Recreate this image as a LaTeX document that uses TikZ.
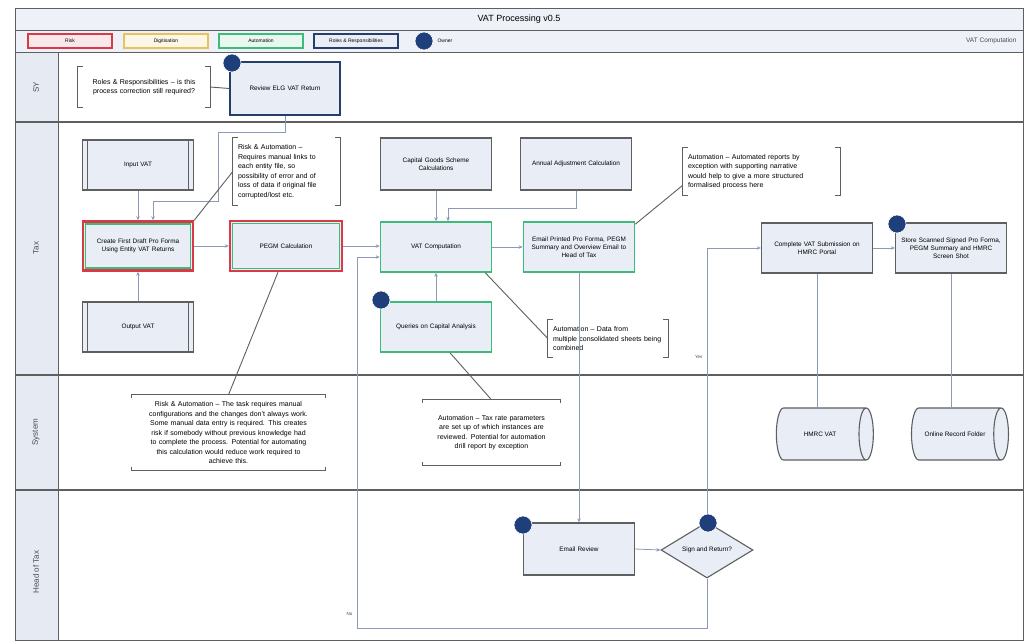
\documentclass[tikz,border=0pt]{standalone}
\usepackage{fontspec}
\setmainfont{Liberation Sans}
\usetikzlibrary{shapes.geometric,arrows.meta,calc}
\definecolor{boxfill}{HTML}{E9EDF6}
\definecolor{lanefill}{HTML}{E6EAF3}
\definecolor{barfill}{HTML}{EEF1F7}
\definecolor{riskred}{HTML}{D93A45}
\definecolor{digyel}{HTML}{E8C35C}
\definecolor{autgreen}{HTML}{3DBB7A}
\definecolor{rolenavy}{HTML}{263E6B}
\definecolor{ownblue}{HTML}{1E3F7A}
\definecolor{linegray}{HTML}{5F5F5F}
\definecolor{connblue}{HTML}{8C9AB8}
\newcommand\boxfont{\fontsize{6.4}{7.8}\selectfont\hyphenpenalty=10000\exhyphenpenalty=10000 }
\newcommand\annfont{\fontsize{7}{9.5}\selectfont\hyphenpenalty=10000\exhyphenpenalty=10000 }
\newcommand\myvbr[1]{%
  \draw[brk] ([xshift=5pt]#1.north west) -- (#1.north west) -- (#1.south west) -- ([xshift=5pt]#1.south west);
  \draw[brk] ([xshift=-5pt]#1.north east) -- (#1.north east) -- (#1.south east) -- ([xshift=-5pt]#1.south east);}
\newcommand\myhbr[1]{%
  \draw[brk] ([yshift=-3pt]#1.north west) -- (#1.north west) -- (#1.north east) -- ([yshift=-3pt]#1.north east);
  \draw[brk] ([yshift=3pt]#1.south west) -- (#1.south west) -- (#1.south east) -- ([yshift=3pt]#1.south east);}
\newcommand\mybars[1]{%
  \draw[linegray, line width=1pt] ([xshift=6pt]#1.north west) -- ([xshift=6pt]#1.south west);
  \draw[linegray, line width=1pt] ([xshift=-6pt]#1.north east) -- ([xshift=-6pt]#1.south east);}
\newcommand\myinner[1]{%
  \draw[autgreen, line width=1.6pt] ([xshift=3.6pt,yshift=-3.6pt]#1.north west) rectangle ([xshift=-3.6pt,yshift=3.6pt]#1.south east);}
\begin{document}
\begin{tikzpicture}[x=1pt,y=-1pt,
  proc/.style={draw=linegray, line width=1.3pt, fill=boxfill, minimum width=111pt, minimum height=50pt, text width=106pt, align=center, inner sep=1pt, font=\boxfont},
  autobox/.style={proc, draw=autgreen, line width=1.6pt},
  riskbox/.style={proc, draw=riskred, line width=2.4pt},
  rolebox/.style={proc, draw=rolenavy, line width=1.7pt},
  ann/.style={minimum width=#1, text width=#1-10pt, align=left, inner sep=1pt, font=\annfont},
  hann/.style={minimum width=#1, text width=#1-4pt, align=center, inner sep=1pt, font=\annfont},
  brk/.style={draw=linegray, line width=0.9pt},
  annline/.style={draw=linegray, line width=0.9pt},
  conn/.style={draw=connblue, line width=0.8pt, -{Stealth[length=4pt,width=3.5pt]}},
  plainconn/.style={draw=connblue, line width=0.8pt},
  owner/.style={circle, fill=ownblue, draw=white, line width=0.6pt, minimum size=18pt, inner sep=0pt},
  legbox/.style={line width=1.4pt, minimum width=84pt, minimum height=14pt, inner sep=0pt, font=\fontsize{5}{5}\selectfont},
  lanelab/.style={rotate=90, font=\fontsize{8}{8}\selectfont, text=black!70},
  db/.style={cylinder, draw=linegray, line width=1.1pt, fill=boxfill, shape aspect=2.2, minimum width=52pt, minimum height=97pt, shape border rotate=0, font=\boxfont, inner sep=1pt}
]
\useasboundingbox (0,0) rectangle (1030,640);
\fill[white] (0,0) rectangle (1030,640);
% frame, title and legend bars
\draw[linegray, line width=0.9pt, fill=barfill] (15,8) rectangle (1023,30);
\draw[linegray, line width=0.9pt, fill=barfill] (15,30) rectangle (1023,52);
\node (title) at (519,19) {\fontsize{9}{9}\selectfont VAT Processing v0.5};
\node[anchor=east, font=\fontsize{6.5}{6.5}\selectfont, text=black!70] (section) at (1020,41) {VAT Computation};
\node[legbox, draw=riskred, fill=riskred!12] (legrisk) at (70,41) {Risk};
\node[legbox, draw=digyel, fill=digyel!15] (legdig) at (166,41) {Digitisation};
\node[legbox, draw=autgreen, fill=autgreen!12] (legaut) at (261,41) {Automation};
\node[legbox, draw=rolenavy, fill=boxfill] (legrole) at (356,41) {Roles \& Responsibilities};
\node[owner] (legown) at (424,41) {};
\node[anchor=west, font=\fontsize{5}{5}\selectfont] (legowntxt) at (434,41) {Owner};
% lanes
\draw[linegray, line width=0.9pt] (15,52) rectangle (1023,640);
\fill[lanefill] (15.5,52.5) rectangle (58,639.5);
\draw[linegray, line width=0.9pt] (58,52) -- (58,640);
\foreach \yy in {122,375,490} {\draw[linegray, line width=1.1pt] (15,\yy) -- (1023,\yy);}
\node[lanelab] (lsy) at (36,87) {SY};
\node[lanelab] (ltax) at (36,248) {Tax};
\node[lanelab] (lsys) at (36,432) {System};
\node[lanelab] (lhot) at (36,572) {Head of Tax};
% SY lane
\node[ann=132pt, minimum height=40pt, align=center] (sybr) at (144,87) {Roles \& Responsibilities -- is this\\process correction still required?};
\myvbr{sybr}
\node[rolebox, minimum width=110pt, minimum height=53pt] (review) at (285,88.5) {Review ELG VAT Return};
\draw[annline] (sybr.east) -- (review.west);
% Tax lane
\node[proc] (input) at (138,165) {Input VAT};
\mybars{input}
\node[proc] (output) at (138,327) {Output VAT};
\mybars{output}
\node[riskbox, minimum width=110pt, minimum height=49pt] (first) at (138,246) {Create First Draft Pro Forma\\Using Entity VAT Returns};
\myinner{first}
\node[ann=107pt, minimum height=67pt] (riskann) at (286.5,171.5) {Risk \& Automation --\\Requires manual links to\\each entity file, so\\possibility of error and of\\loss of data if original file\\corrupted/lost etc.};
\myvbr{riskann}
\node[riskbox, minimum width=112pt] (pegm) at (286,246) {PEGM Calculation};
\myinner{pegm}
\node[proc, minimum height=52pt] (cgs) at (436,164) {Capital Goods Scheme\\Calculations};
\node[proc, minimum height=52pt] (annual) at (576,164) {Annual Adjustment Calculation};
\node[autobox] (vatc) at (436,247) {VAT Computation};
\node[autobox] (email) at (579,247) {Email Printed Pro Forma, PEGM\\Summary and Overview Email to\\Head of Tax};
\node[ann=157pt, minimum height=47pt] (autoann1) at (761.5,171.5) {Automation -- Automated reports by\\exception with supporting narrative\\would help to give a more structured\\formalised process here};
\myvbr{autoann1}
\node[proc] (complete) at (817,248) {Complete VAT Submission on\\HMRC Portal};
\node[proc] (store) at (951,248) {Store Scanned Signed Pro Forma,\\PEGM Summary and HMRC\\Screen Shot};
\node[autobox] (queries) at (436,327) {Queries on Capital Analysis};
\node[ann=120pt, minimum height=37pt] (autoann2) at (608,338.5) {Automation -- Data from\\multiple consolidated sheets being\\combined};
\myvbr{autoann2}
% System lane
\node[hann=193pt, minimum height=75pt] (sysann1) at (228.5,432.5) {Risk \& Automation -- The task requires manual\\configurations and the changes don't always work.\\Some manual data entry is required. This creates\\risk if somebody without previous knowledge had\\to complete the process. Potential for automating\\this calculation would reduce work required to\\achieve this.};
\myhbr{sysann1}
\node[hann=137pt, minimum height=65pt] (sysann2) at (491.5,432.5) {Automation -- Tax rate parameters\\are set up of which instances are\\reviewed. Potential for automation\\drill report by exception};
\myhbr{sysann2}
\node[db] (hmrc) at (820,434) {HMRC VAT};
\node[db] (online) at (955,434) {Online Record Folder};
% Head of Tax lane
\node[proc, minimum height=52pt] (ereview) at (579,549) {Email Review};
\node[diamond, draw=linegray, line width=1.1pt, fill=boxfill, minimum width=92pt, minimum height=56pt, inner sep=0pt, font=\boxfont] (dia) at (707,550) {Sign and Return?};
% connectors
\draw[conn] (review.south) |- (218,132) |- (153,201) -- (153,0 |- first.north);
\draw[conn] (input.south) -- (first.north);
\draw[conn] (output.north) -- (first.south);
\draw[conn] (first.east) -- (pegm.west);
\draw[conn] (pegm.east) -- (pegm.east -| vatc.west);
\draw[conn] (cgs.south) -- (vatc.north);
\draw[conn] (annual.south) |- (448,208) -- (448,0 |- vatc.north);
\draw[conn] (vatc.east) -- (email.west);
\draw[conn] (queries.north) -- (vatc.south);
\draw[conn] (email.south) -- (ereview.north);
\draw[conn] (ereview.east) -- (dia.west);
\draw[conn] (dia.north) |- (complete.west);
\draw[conn] (complete.east) -- (store.west);
\draw[plainconn] (complete.south) -- (complete.south |- hmrc.north);
\draw[plainconn] (store.south) -- (store.south |- online.north);
\draw[conn] (dia.south) |- (357,628) |- ([yshift=-10pt]vatc.west);
\node[font=\fontsize{4.5}{4.5}\selectfont, text=black!70, anchor=east] (yeslab) at (706,357) {Yes};
\node[font=\fontsize{4.5}{4.5}\selectfont, text=black!70, anchor=east] (nolab) at (356,614) {No};
% annotation links
\draw[annline] (riskann.west) -- (first.north east);
\draw[annline] ([xshift=-8pt]pegm.south) -- (sysann1.north);
\draw[annline] ([xshift=-7pt]vatc.south east) -- (autoann2.west);
\draw[annline] ([xshift=14pt]queries.south) -- (sysann2.north);
\draw[annline] ([yshift=-3pt]email.north east) -- ([yshift=10pt]autoann1.south west);
% owner markers
\node[owner] (o1) at (232,63) {};
\node[owner] (o2) at (381,300) {};
\node[owner] (o3) at (897,224) {};
\node[owner] (o4) at (523,525) {};
\node[owner] (o5) at (708,523) {};
\end{tikzpicture}
\end{document}
